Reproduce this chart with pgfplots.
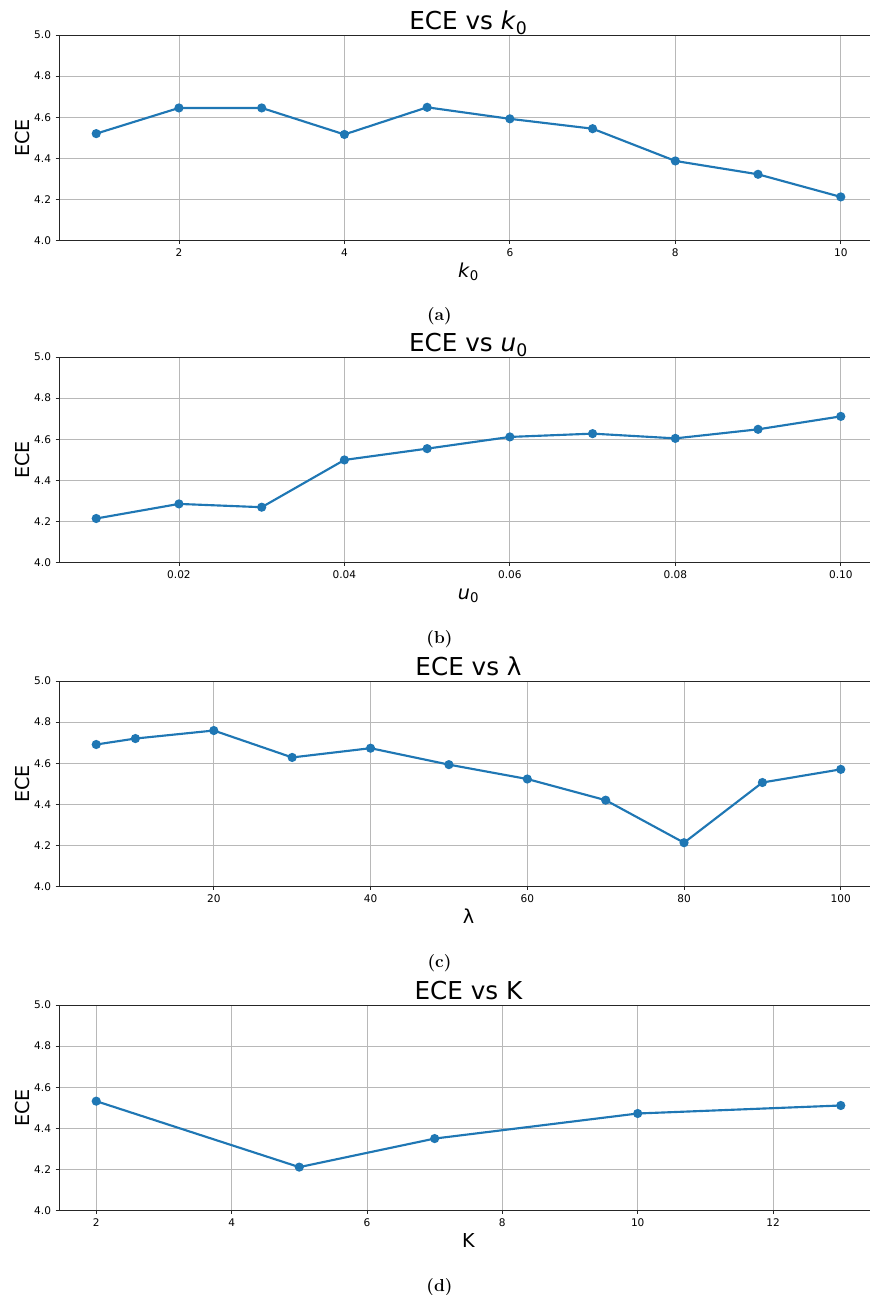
\documentclass[border=0pt]{standalone}
\usepackage{fontspec}
\newfontfamily\djv{DejaVu Sans}
\usepackage{pgfplots}
\pgfplotsset{compat=1.18}
\definecolor{mplblue}{HTML}{1F77B4}
\definecolor{gridc}{HTML}{B8B8B8}
\pgfplotsset{
  mplline/.style={color=mplblue, line width=1.6pt, mark=*, mark size=2.6pt, mark options={solid, fill=mplblue, draw=mplblue}},
  every axis title shift=0pt,
  panel/.style={
    scale only axis, width=614.25pt, height=154.1pt,
    anchor=north west,
    ymin=4, ymax=5, ytick={4.0,4.2,4.4,4.6,4.8,5.0},
    grid=major, major grid style={gridc, line width=0.6pt},
    axis line style={black!85, line width=0.7pt},
    tick align=outside, major tick length=2.5pt, tick pos=left,
    tick style={black!85, line width=0.6pt},
    scaled x ticks=false,
    /pgf/number format/assume math mode=true,
    ticklabel style={font=\djv\fontsize{7.9}{9}\selectfont},
    yticklabel style={/pgf/number format/.cd, fixed, fixed zerofill, precision=1},
    title style={font=\djv\fontsize{18.5}{22}\selectfont, at={(axis description cs:0.5,1.027)}, anchor=base, yshift=0pt},
    xlabel style={font=\djv\fontsize{14.4}{17}\selectfont, at={(axis description cs:0.5,-0.18)}, anchor=base},
    ylabel style={font=\djv\fontsize{14.4}{17}\selectfont, at={(axis description cs:-0.0362,0.5)}, anchor=base},
    ylabel={ECE},
  }
}
\begin{document}
\begin{tikzpicture}
\useasboundingbox (0,0) rectangle (652.5pt,-971.25pt);

% (a)
\begin{axis}[panel, at={(44.25pt,-26.25pt)},
  xmin=0.55, xmax=10.45, xtick={2,4,6,8,10},
  title={ECE vs \textit{k}\textsubscript{0}}, xlabel={\textit{k}\textsubscript{0}}]
\addplot[mplline] coordinates {(1,4.520) (2,4.645) (3,4.645) (4,4.516) (5,4.648) (6,4.592) (7,4.544) (8,4.387) (9,4.322) (10,4.212)};
\end{axis}
\node[font=\bfseries\fontsize{13}{15}\selectfont, anchor=base] at (329.6pt,-240pt) {(a)};

% (b)
\begin{axis}[panel, at={(44.25pt,-267.75pt)},
  xmin=0.0055, xmax=0.1045, xtick={0.02,0.04,0.06,0.08,0.10},
  xticklabel style={/pgf/number format/.cd, fixed, fixed zerofill, precision=2},
  title={ECE vs \textit{u}\textsubscript{0}}, xlabel={\textit{u}\textsubscript{0}}]
\addplot[mplline] coordinates {(0.01,4.214) (0.02,4.285) (0.03,4.269) (0.04,4.499) (0.05,4.554) (0.06,4.611) (0.07,4.627) (0.08,4.604) (0.09,4.648) (0.10,4.711)};
\end{axis}
\node[font=\bfseries\fontsize{13}{15}\selectfont, anchor=base] at (329.6pt,-482.25pt) {(b)};

% (c)
\begin{axis}[panel, at={(44.25pt,-510.75pt)},
  xmin=0.25, xmax=104.75, xtick={20,40,60,80,100},
  title={ECE vs λ}, xlabel={λ}]
\addplot[mplline] coordinates {(5,4.691) (10,4.720) (20,4.759) (30,4.628) (40,4.673) (50,4.593) (60,4.523) (70,4.420) (80,4.213) (90,4.506) (100,4.570)};
\end{axis}
\node[font=\bfseries\fontsize{13}{15}\selectfont, anchor=base] at (329.6pt,-725.25pt) {(c)};

% (d)
\begin{axis}[panel, at={(44.25pt,-753.75pt)},
  xmin=1.45, xmax=13.55, xtick={2,4,6,8,10,12},
  title={ECE vs K}, xlabel={K}]
\addplot[mplline] coordinates {(2,4.532) (5,4.211) (7,4.350) (10,4.472) (13,4.511)};
\end{axis}
\node[font=\bfseries\fontsize{13}{15}\selectfont, anchor=base] at (329.6pt,-968.25pt) {(d)};
\end{tikzpicture}
\end{document}
